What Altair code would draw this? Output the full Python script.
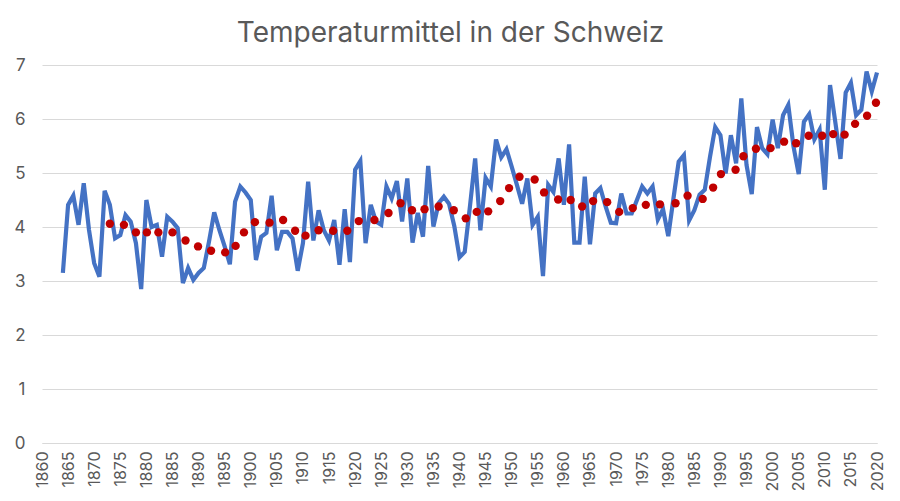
import altair as alt
import pandas as pd

years = list(range(1864, 2021))
temps = [
    3.15, 4.41, 4.58, 4.04, 4.81, 3.95, 3.33, 3.08, 4.67, 4.41,
    3.79, 3.85, 4.22, 4.10, 3.70, 2.85, 4.50, 4.00, 4.04, 3.45,
    4.19, 4.10, 3.98, 2.96, 3.24, 3.02, 3.15, 3.24, 3.73, 4.27,
    3.94, 3.64, 3.31, 4.47, 4.75, 4.64, 4.50, 3.39, 3.82, 3.89,
    4.58, 3.57, 3.91, 3.91, 3.79, 3.19, 3.70, 4.84, 3.75, 4.31,
    3.94, 3.75, 4.13, 3.30, 4.33, 3.35, 5.06, 5.22, 3.70, 4.41,
    4.10, 4.04, 4.75, 4.53, 4.85, 4.10, 4.90, 3.71, 4.26, 3.82,
    5.13, 4.01, 4.44, 4.56, 4.43, 4.02, 3.44, 3.54, 4.38, 5.27,
    3.94, 4.91, 4.75, 5.62, 5.29, 5.44, 5.12, 4.78, 4.43, 4.90,
    4.04, 4.19, 3.09, 4.78, 4.65, 5.27, 4.41, 5.53, 3.71, 3.71,
    4.93, 3.68, 4.62, 4.72, 4.38, 4.08, 4.07, 4.62, 4.25, 4.25,
    4.50, 4.75, 4.62, 4.75, 4.14, 4.33, 3.83, 4.53, 5.21, 5.33,
    4.12, 4.31, 4.60, 4.69, 5.30, 5.85, 5.70, 4.99, 5.70, 5.18,
    6.38, 5.15, 4.61, 5.85, 5.46, 5.35, 5.99, 5.46, 6.07, 6.26,
    5.49, 4.98, 5.95, 6.09, 5.62, 5.80, 4.69, 6.63, 5.95, 5.26,
    6.49, 6.67, 6.07, 6.17, 6.88, 6.51, 6.86,
]

avg_years = [
    1873.0, 1875.7, 1878.0, 1880.1, 1882.3, 1885.0, 1887.5, 1889.9, 1892.4, 1895.1,
    1897.1, 1898.7, 1900.8, 1903.6, 1906.2, 1908.5, 1910.5, 1913.0, 1915.8, 1918.5,
    1920.7, 1923.7, 1926.4, 1928.7, 1930.9, 1933.3, 1936.0, 1938.9, 1941.2, 1943.3,
    1945.5, 1947.8, 1949.5, 1951.5, 1954.4, 1956.2, 1958.9, 1961.3, 1963.5, 1965.6,
    1968.3, 1970.6, 1973.2, 1975.7, 1978.4, 1981.4, 1983.7, 1986.6, 1988.6, 1990.1,
    1992.9, 1994.4, 1996.8, 1999.6, 2002.2, 2004.5, 2006.9, 2009.5, 2011.6, 2013.8,
    2015.8, 2018.1, 2019.8,
]
avg_values = [
    4.06, 4.04, 3.90, 3.90, 3.90, 3.90, 3.75, 3.64, 3.56, 3.53,
    3.65, 3.90, 4.09, 4.08, 4.13, 3.93, 3.84, 3.94, 3.93, 3.93,
    4.11, 4.13, 4.26, 4.44, 4.31, 4.33, 4.38, 4.31, 4.16, 4.28,
    4.29, 4.48, 4.72, 4.93, 4.88, 4.64, 4.51, 4.50, 4.38, 4.48,
    4.46, 4.28, 4.35, 4.41, 4.42, 4.44, 4.58, 4.52, 4.73, 4.98,
    5.06, 5.31, 5.45, 5.46, 5.58, 5.55, 5.69, 5.69, 5.72, 5.71,
    5.91, 6.06, 6.30,
]

x_ticks = list(range(1860, 2021, 5))
y_ticks = [0, 1, 2, 3, 4, 5, 6, 7]

df_line = pd.DataFrame({"Jahr": years, "Temperatur": temps})
df_avg = pd.DataFrame({"Jahr": avg_years, "Mittel": avg_values})

FONT = "Inter"
GRAY = "#595959"

x_scale = alt.Scale(domain=[1860, 2020], nice=False, zero=False)
y_scale = alt.Scale(domain=[0, 7], nice=False)

x_axis = alt.Axis(
    values=x_ticks, format="d", labelAngle=270, labelFontSize=16,
    labelColor=GRAY, labelFont=FONT, ticks=False, grid=False,
    domain=True, domainColor="#d9d9d9", labelPadding=8, labelFlush=False,
    labelOverlap=False, labelBound=False,
)
y_axis = alt.Axis(
    values=y_ticks, format="d", labelFontSize=17, labelColor=GRAY, labelFont=FONT,
    ticks=False, domain=False, grid=True, gridColor="#d9d9d9",
    labelPadding=17,
)

line = alt.Chart(df_line).mark_line(color="#4472C4", strokeWidth=4.2).encode(
    x=alt.X("Jahr:Q", scale=x_scale, axis=x_axis, title=None),
    y=alt.Y("Temperatur:Q", scale=y_scale, axis=y_axis, title=None),
)

points = alt.Chart(df_avg).mark_circle(color="#C00000", size=70, opacity=1).encode(
    x=alt.X("Jahr:Q", scale=x_scale, axis=x_axis, title=None),
    y=alt.Y("Mittel:Q", scale=y_scale, axis=y_axis, title=None),
)

chart = alt.layer(line, points).properties(
    width=835,
    height=378,
    padding={"left": 34, "top": 57, "right": 12, "bottom": 54},
    autosize=alt.AutoSizeParams(type="none"),
    background="white",
    title=alt.TitleParams(
        text="Temperaturmittel in der Schweiz",
        font=FONT, fontSize=28, fontWeight="normal", color=GRAY,
        anchor="middle", frame="group", offset=8, dx=-9,
    ),
).configure_view(stroke=None)

chart.save("out.html", embed_options={"renderer": "svg", "actions": False})
